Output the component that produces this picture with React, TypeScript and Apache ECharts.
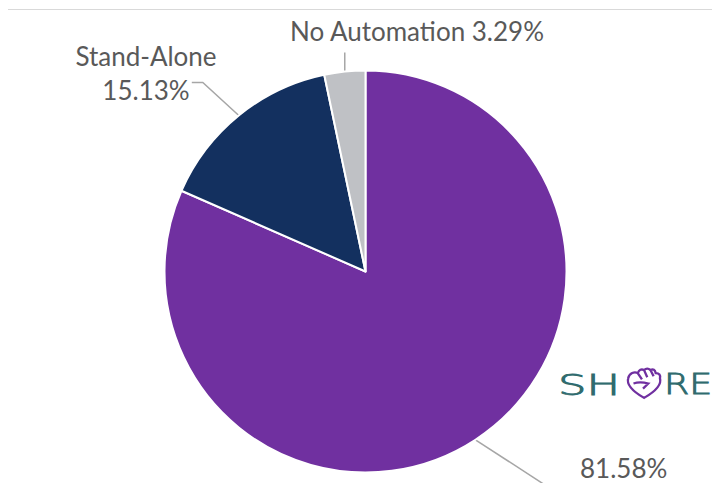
import React, { useEffect, useRef } from "react";
import * as echarts from "echarts";

const categories = ["Integrated", "Stand-Alone", "No Automation"];
const shares = [81.58, 15.13, 3.29];
const sliceColors = ["#7030A0", "#13305F", "#BFC1C5"];

const ICON_D =
  "M18 30 C 8 24 1 18 3 11 C 4 6 9 4 12 6 Q 14 1 18 3 Q 21 0 24 3 Q 28 1 29 6 Q 34 6 33 11 C 35 18 28 24 18 30 Z " +
  "M12 6 L16 12 M18 3 L21 10 M24 3 L27 9 M8 16 Q14 14 22 16 L17 21";

let registered = false;
function ensureShape() {
  if (registered) return;
  echarts.graphic.registerShape("shoreIcon", echarts.graphic.extendPath(ICON_D, {}) as any);
  registered = true;
}

// label placement (layout only)
const LABEL_SPECS = [
  { x: 580, y: 468, align: "left", lineHeight: 24, dx1: 100, dy1: 65, dx2: 0 },
  { x: 146, y: 73, align: "center", lineHeight: 34, dx1: -36, dy1: -33, dx2: -11 },
  { x: 417, y: 31, align: "center", lineHeight: 30, dx1: 0, dy1: -19, dx2: 0 },
];

export default function App() {
  const ref = useRef<HTMLDivElement>(null);
  useEffect(() => {
    if (!ref.current) return;
    ensureShape();
    const chart = echarts.init(ref.current, null, { renderer: "svg" });
    const textStyle = {
      fontFamily: "Lato, 'Open Sans', sans-serif",
      fontSize: 26,
      color: "#595959",
    };
    const logoFont = "200 28px 'DejaVu Sans', sans-serif";
    const logoStyle = {
      fill: "#2F6B6E",
      stroke: "#2F6B6E",
      lineWidth: 0.9,
      font: logoFont,
      align: "left",
      verticalAlign: "middle",
    };
    chart.setOption({
      animation: false,
      graphic: [
        {
          type: "line",
          shape: { x1: 8, y1: 9.5, x2: 712, y2: 9.5 },
          style: { stroke: "#D9D9D9", lineWidth: 1 },
        },
        {
          type: "text",
          x: 558,
          y: 385,
          scaleX: 1.6,
          style: { ...logoStyle, text: "SH" },
        },
        {
          type: "shoreIcon",
          x: 625,
          y: 367,
          scaleX: 1.06,
          scaleY: 1.03,
          style: { fill: "none", stroke: "#7030A0", lineWidth: 2.2 },
        },
        {
          type: "text",
          x: 664,
          y: 385,
          scaleX: 1.3,
          style: { ...logoStyle, text: "RE" },
        },
      ],
      series: [
        {
          type: "pie",
          center: [365.5, 271.5],
          radius: 201,
          startAngle: 90,
          clockwise: true,
          avoidLabelOverlap: false,
          itemStyle: { borderColor: "#FFFFFF", borderWidth: 2 },
          label: {
            show: true,
            position: "outside",
            ...textStyle,
            formatter: (p: any) => {
              const v = shares[p.dataIndex].toFixed(2) + "%";
              if (p.dataIndex === 0) return v;
              if (p.dataIndex === 1) return p.name + "\n" + v;
              return p.name + " " + v;
            },
          },
          labelLine: {
            show: true,
            length: 20,
            length2: 10,
            lineStyle: { color: "#A6A6A6", width: 1.5 },
          },
          labelLayout: (params: any) => {
            const spec = LABEL_SPECS[params.dataIndex];
            const res: any = {
              x: spec.x,
              y: spec.y,
              align: spec.align,
              verticalAlign: "middle",
            };
            const pts = params.labelLinePoints;
            if (pts && pts[0]) {
              const p0 = pts[0];
              const p1 = [p0[0] + spec.dx1, p0[1] + spec.dy1];
              const p2 = [p1[0] + spec.dx2, p1[1]];
              res.labelLinePoints = [p0, p1, p2];
            }
            return res;
          },
          data: categories.map((name, i) => ({
            name,
            value: shares[i],
            itemStyle: { color: sliceColors[i] },
            label: { lineHeight: LABEL_SPECS[i].lineHeight },
          })),
        },
      ],
    });
    return () => chart.dispose();
  }, []);
  return (
    <div
      ref={ref}
      style={{ position: "fixed", left: 0, top: 0, width: 712, height: 483, background: "#fff" }}
    />
  );
}
